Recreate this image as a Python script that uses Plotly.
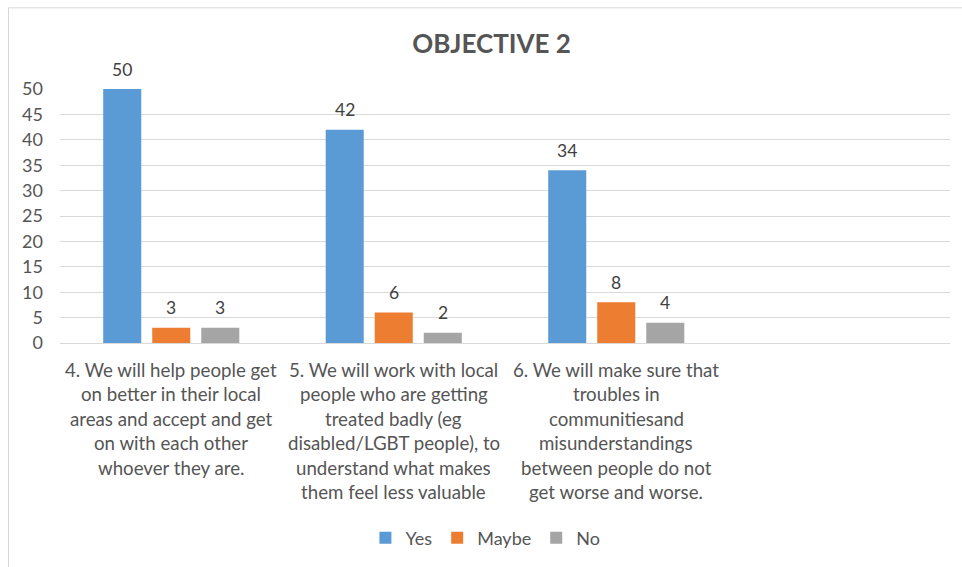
import plotly.graph_objects as go

# Survey responses for Objective 2
categories = [
    "4. We will help people get<br>on better in their local<br>areas and accept and get<br>on with each other<br>whoever they are.",
    "5. We will work with local<br>people who are getting<br>treated badly (eg<br>disabled/LGBT people), to<br>understand what makes<br>them feel less valuable",
    "6. We will make sure that<br>troubles in<br>communitiesand<br>misunderstandings<br>between people do not<br>get worse and worse.",
]
series_names = ["Yes", "Maybe", "No"]
yes_values = [50, 42, 34]
maybe_values = [3, 6, 8]
no_values = [3, 2, 4]
y_ticks = [0, 5, 10, 15, 20, 25, 30, 35, 40, 45, 50]

colors = ["#5B9BD5", "#ED7D31", "#A5A5A5"]
text_color = "#555555"
grid_color = "#D9D9D9"
font_family = "Lato, Open Sans, sans-serif"
font_size = 18

fig = go.Figure()
all_values = [yes_values, maybe_values, no_values]
for name, vals, col in zip(series_names, all_values, colors):
    fig.add_trace(go.Bar(
        name=name, x=categories, y=vals, marker=dict(color=col, line=dict(width=0)),
    ))

annotations = []
# value labels above each bar
slot_px = 49
for j, vals in enumerate(all_values):
    for cat, v in zip(categories, vals):
        annotations.append(dict(
            x=cat, y=v, xref="x", yref="y", text=str(v), showarrow=False,
            xshift=(j - 1) * slot_px, yshift=20, yanchor="middle",
            font=dict(family=font_family, size=17.5, color="#404040"),
        ))

# multi-line category labels under the axis
line_step = 24.4
for cat in categories:
    for i, line in enumerate(cat.split("<br>")):
        annotations.append(dict(
            x=cat, y=0, xref="x", yref="y", text=line, showarrow=False,
            yshift=-(27 + i * line_step), yanchor="middle", xanchor="center",
            font=dict(family=font_family, size=18.7, color=text_color),
        ))

fig.update_layout(
    width=962, height=567,
    margin=dict(l=60, r=12, t=89, b=223),
    paper_bgcolor="white", plot_bgcolor="white",
    barmode="group", bargap=0.339, bargroupgap=0.224,
    title=dict(
        text="<b>OBJECTIVE 2</b>", x=0.511, xref="container", xanchor="center",
        y=1 - 44 / 567, yref="container", yanchor="middle",
        font=dict(family=font_family, size=26, color=text_color),
    ),
    xaxis=dict(
        type="category", range=[-0.5, 3.5], showticklabels=False,
        showgrid=False, zeroline=False, showline=False, ticks="",
    ),
    yaxis=dict(
        range=[0, 50], tickvals=y_ticks, showgrid=True, gridcolor=grid_color,
        gridwidth=1, zeroline=True, zerolinecolor=grid_color, zerolinewidth=1,
        showline=False, ticks="", ticklabelstandoff=16,
        tickfont=dict(family=font_family, size=font_size, color=text_color),
    ),
    legend=dict(
        orientation="h", x=0.478, xanchor="center", y=-0.761, yanchor="middle",
        font=dict(family=font_family, size=font_size, color=text_color),
        itemwidth=30, traceorder="normal",
    ),
    annotations=annotations,
    shapes=[dict(
        type="rect", xref="paper", yref="paper",
        x0=(8.5 - 60) / 890, x1=(990 - 60) / 890,
        y0=(344 - 600) / 255, y1=(344 - 7.5) / 255,
        line=dict(color="#D9D9D9", width=1), fillcolor="rgba(0,0,0,0)", layer="below",
    )],
)

fig.write_html("out.html")
